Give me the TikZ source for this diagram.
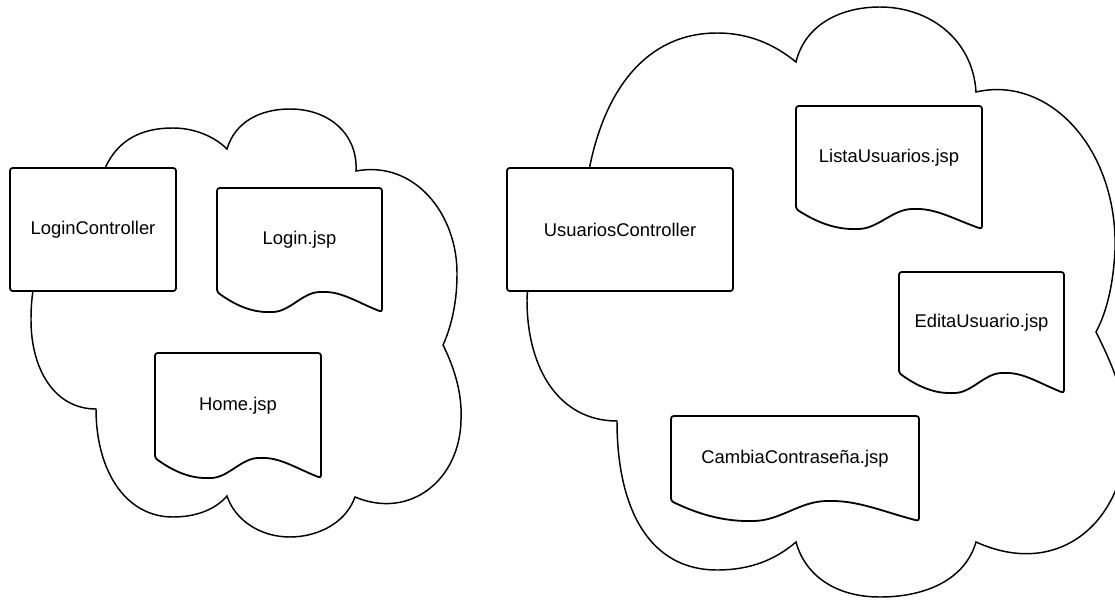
\documentclass[tikz,border=0pt]{standalone}
\usepackage{fontspec}
\setmainfont{Liberation Sans}
\usetikzlibrary{calc}

% page outline with a wavy bottom, drawn round a named node
\newcommand{\docshape}[1]{%
  \draw[docline] (#1.south west) -- (#1.north west) -- (#1.north east) -- ($(#1.south east)+(0,20)$)
    .. controls ($(#1.south west)!0.86!(#1.south east)+(0,11)$) and ($(#1.south west)!0.76!(#1.south east)$) .. ($(#1.south west)!0.64!(#1.south east)$)
    .. controls ($(#1.south west)!0.52!(#1.south east)$) and ($(#1.south west)!0.44!(#1.south east)+(0,20)$) .. ($(#1.south west)!0.32!(#1.south east)+(0,20)$)
    .. controls ($(#1.south west)!0.2!(#1.south east)+(0,20)$) and ($(#1.south west)!0.1!(#1.south east)+(0,12)$) .. (#1.south west) -- cycle;}

\begin{document}
\begin{tikzpicture}[x=0.75pt, y=-0.75pt,
  cloudline/.style={draw, line width=1.1pt},
  ctrlbox/.style={draw, fill=white, rounded corners=2pt, line width=1.35pt, inner sep=0pt, outer sep=0pt, font=\fontsize{13.8}{16}\selectfont},
  docbox/.style={inner sep=0pt, outer sep=0pt, font=\fontsize{13.8}{16}\selectfont},
  docline/.style={draw, line width=1.35pt, rounded corners=2pt}]
\useasboundingbox (0,0) rectangle (1115,600);

% left cloud
\draw[cloudline] (95,220)
  .. controls (97,150) and (130,128) .. (173,128)
  .. controls (195,128) and (215,137) .. (227,149)
  .. controls (235,122) and (260,109) .. (290,109)
  .. controls (330,109) and (358,135) .. (356,171)
  .. controls (415,160) and (458,215) .. (457,275)
  .. controls (457,305) and (450,330) .. (443,345)
  .. controls (458,375) and (462,400) .. (461,420)
  .. controls (460,480) and (410,520) .. (355,497)
  .. controls (345,525) and (315,537) .. (290,537)
  .. controls (260,537) and (235,520) .. (227,496)
  .. controls (215,510) and (195,517) .. (173,517)
  .. controls (125,517) and (96,470) .. (96,409)
  .. controls (55,409) and (31,370) .. (31,320)
  .. controls (31,300) and (33,290) .. (35,280)
  .. controls (40,240) and (60,220) .. (95,220) -- cycle;

% right cloud
\draw[cloudline] (582,250)
  .. controls (582,120) and (630,33) .. (717,33)
  .. controls (750,33) and (775,45) .. (796,62)
  .. controls (805,25) and (840,7) .. (880,7)
  .. controls (930,7) and (973,40) .. (976,92)
  .. controls (1050,75) and (1118,150) .. (1115,250)
  .. controls (1113,290) and (1105,315) .. (1096,332)
  .. controls (1115,370) and (1127,400) .. (1126,440)
  .. controls (1124,520) and (1060,580) .. (976,542)
  .. controls (965,580) and (925,597) .. (880,597)
  .. controls (835,597) and (805,575) .. (796,542)
  .. controls (775,560) and (750,570) .. (717,570)
  .. controls (650,570) and (617,510) .. (617,421)
  .. controls (560,421) and (527,370) .. (527,300)
  .. controls (527,270) and (545,250) .. (582,250) -- cycle;

\node[ctrlbox, minimum width=124.5pt, minimum height=92.25pt] (loginctrl) at (93,229.5) {LoginController};
\node[docbox, minimum width=123.75pt, minimum height=78pt] (loginjsp) at (299.5,240) {Login.jsp};
\node[docbox, minimum width=124.5pt, minimum height=78.75pt] (homejsp) at (238,405.5) {Home.jsp};
\node[ctrlbox, minimum width=169.5pt, minimum height=92.25pt] (usrctrl) at (620,229.5) {UsuariosController};
\node[docbox, minimum width=139.5pt, minimum height=77.25pt] (listajsp) at (889,157.5) {ListaUsuarios.jsp};
\node[docbox, minimum width=123.75pt, minimum height=75.75pt] (editajsp) at (981.5,322.5) {EditaUsuario.jsp};
\node[docbox, minimum width=186pt, minimum height=63.75pt] (cambiajsp) at (795,458.5) {CambiaContraseña.jsp};

\docshape{loginjsp}
\docshape{homejsp}
\docshape{listajsp}
\docshape{editajsp}
\docshape{cambiajsp}
\end{tikzpicture}
\end{document}
